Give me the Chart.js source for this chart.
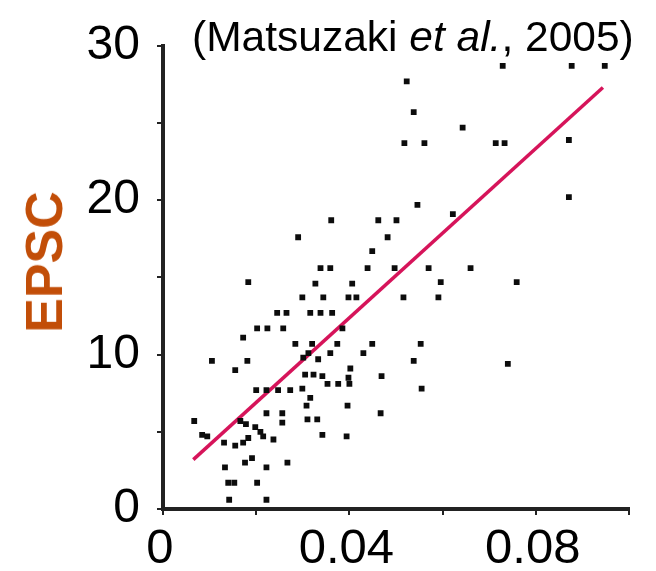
<!DOCTYPE html>
<html>
<head>
<meta charset="utf-8">
<script src="https://cdn.jsdelivr.net/npm/chart.js@4"></script>
<style>
  html, body { margin: 0; padding: 0; background: #fff; }
  #wrap { position: relative; width: 656px; height: 571px; font-family: "Liberation Sans", Arial, sans-serif; }
  #cite { position: absolute; left: 192px; top: 16px; font-size: 42.5px; line-height: 1; color: #000; white-space: nowrap; }
  #ylab { position: absolute; left: 44px; top: 262px; transform: translate(-50%, -50%) rotate(-90deg);
          font-size: 52px; font-weight: bold; line-height: 1; color: #c24e08; white-space: nowrap; }
</style>
</head>
<body>
<div id="wrap">
  <canvas id="c" width="656" height="571"></canvas>
  <div id="cite">(Matsuzaki <i>et al.</i>, 2005)</div>
  <div id="ylab">EPSC</div>
</div>
<script>
// spine size (x) vs EPSC amplitude (y), one entry per spine
const sizeVals = [
  0.0729, 0.0877, 0.0948, 0.0523, 0.0538, 0.0643, 0.0518, 0.0561, 0.0714, 0.0733,
  0.0871, 0.0871, 0.0546, 0.0622, 0.0361, 0.0462, 0.0501, 0.0482, 0.0290, 0.0449,
  0.0338, 0.0359, 0.0439, 0.0497, 0.0570, 0.0660, 0.0596, 0.0759, 0.0183, 0.0327,
  0.0406, 0.0299, 0.0344, 0.0398, 0.0415, 0.0516, 0.0591, 0.0245, 0.0265, 0.0316,
  0.0338, 0.0363, 0.0202, 0.0224, 0.0258, 0.0385, 0.0172, 0.0284, 0.0320, 0.0374,
  0.0449, 0.0553, 0.0312, 0.0359, 0.0430, 0.0105, 0.0181, 0.0301, 0.0333, 0.0538,
  0.0740, 0.0155, 0.0402, 0.0305, 0.0323, 0.0342, 0.0398, 0.0469, 0.0353, 0.0376,
  0.0400, 0.0555, 0.0200, 0.0222, 0.0247, 0.0273, 0.0299, 0.0316, 0.0308, 0.0396,
  0.0467, 0.0222, 0.0256, 0.0256, 0.0310, 0.0331, 0.0067, 0.0166, 0.0178, 0.0198,
  0.0209, 0.0215, 0.0084, 0.0095, 0.0342, 0.0394, 0.0131, 0.0155, 0.0172, 0.0183,
  0.0237, 0.0176, 0.0191, 0.0133, 0.0222, 0.0267, 0.0140, 0.0153, 0.0202, 0.0142,
  0.0222
];
const epscVals = [
  28.7, 28.7, 28.7, 27.7, 25.7, 24.7, 23.7, 23.7, 23.7, 23.7,
  23.9, 20.2, 19.7, 19.1, 18.7, 18.7, 18.7, 17.6, 17.6, 16.7,
  15.6, 15.6, 15.6, 15.6, 15.6, 15.6, 14.7, 14.7, 14.7, 14.6,
  14.6, 13.7, 13.7, 13.7, 13.7, 13.7, 13.7, 12.7, 12.7, 12.7,
  12.7, 12.7, 11.7, 11.7, 11.7, 11.7, 11.1, 10.7, 10.7, 10.7,
  10.7, 10.7, 10.1, 10.1, 10.1, 9.6, 9.6, 9.8, 9.7, 9.6,
  9.4, 9.0, 9.1, 8.7, 8.7, 8.6, 8.5, 8.6, 8.1, 8.1,
  8.1, 7.8, 7.7, 7.7, 7.7, 7.7, 7.8, 7.2, 6.7, 6.7,
  6.2, 6.2, 6.2, 5.6, 5.8, 5.8, 5.7, 5.7, 5.5, 5.3,
  5.0, 4.7, 4.8, 4.7, 4.8, 4.7, 4.3, 4.1, 4.3, 4.6,
  4.5, 3.0, 3.3, 2.7, 2.7, 3.0, 1.7, 1.7, 1.7, 0.6,
  0.6
];

// end points of the regression line
const fitX = [0.0065, 0.0944];
const fitY = [3.2, 27.3];

// axis ticks
const xTicks = [0, 0.02, 0.04, 0.06, 0.08, 0.1];
const xLabelled = ['0', '0.04', '0.08'];
const yLabelled = [0, 10, 20, 30];

const FONT = '"Liberation Sans", Arial, sans-serif';
const INK = '#222';

const points = sizeVals.map((x, i) => ({x, y: epscVals[i]}));
const fit = fitX.map((x, i) => ({x, y: fitY[i]}));

new Chart(document.getElementById('c').getContext('2d'), {
  type: 'scatter',
  data: {
    datasets: [
      {
        data: points,
        pointStyle: 'rect',
        pointRadius: 4.1,
        pointHoverRadius: 4.1,
        backgroundColor: '#0c0c0c',
        borderWidth: 0,
        order: 0
      },
      {
        type: 'line',
        data: fit,
        borderColor: '#d6145a',
        borderWidth: 3.5,
        pointRadius: 0,
        fill: false,
        order: 1
      }
    ]
  },
  options: {
    responsive: false,
    animation: false,
    events: [],
    layout: {padding: {left: 0, right: 27, top: 45, bottom: 0}},
    plugins: {legend: {display: false}, tooltip: {enabled: false}, title: {display: false}},
    scales: {
      x: {
        type: 'linear',
        min: 0, max: 0.1,
        afterBuildTicks: s => { s.ticks = xTicks.map(v => ({value: v})); },
        afterFit: s => { s.height = 62; },
        border: {display: true, color: INK, width: 4},
        grid: {drawOnChartArea: false, drawTicks: true, tickLength: 6, lineWidth: 2, color: INK},
        ticks: {
          color: '#000', font: {family: FONT, size: 49}, padding: 5, maxRotation: 0, autoSkip: false,
          labelOffset: -3,
          callback: v => {
            const k = Math.round(v / 0.02);
            return k % 2 === 0 && k / 2 < xLabelled.length ? xLabelled[k / 2] : '';
          }
        }
      },
      y: {
        min: 0, max: 30,
        ticks: {
          stepSize: 5, color: '#000', font: {family: FONT, size: 48}, padding: 17, autoSkip: false,
          callback: v => yLabelled.includes(v) ? String(v) : ''
        },
        afterFit: s => { s.width = 163; },
        border: {display: true, color: INK, width: 4},
        grid: {drawOnChartArea: false, drawTicks: true, tickLength: 6, lineWidth: 2, color: INK}
      }
    }
  }
});
</script>
</body>
</html>
